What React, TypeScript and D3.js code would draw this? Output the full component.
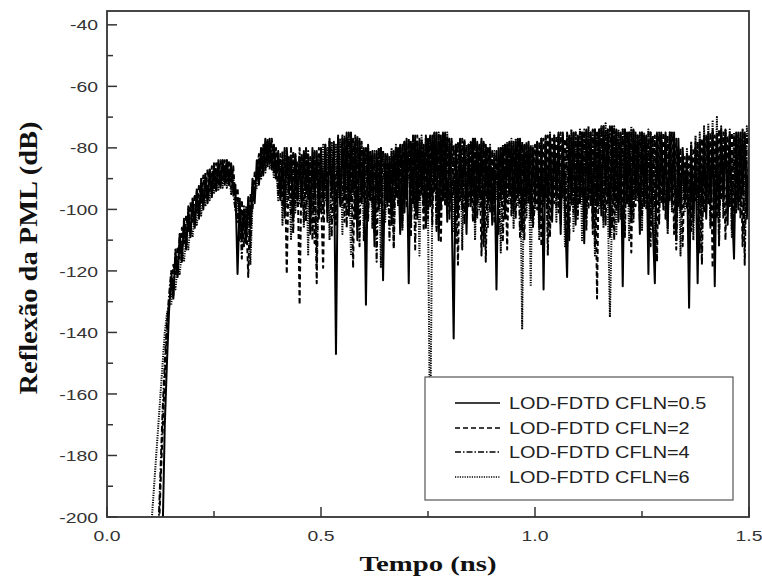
import React from 'react';
import * as d3 from 'd3';

// time grid: first sample and step (ns)
const tStart = 0.1;
const tStep = 0.005;

// LOD-FDTD CFLN=0.5 (solid)
const cfl05 = [
  -215, -215, -215, -215, -215, -215, -205, -170, -150, -133,
  -122, -129, -114, -122, -108, -117, -104, -113, -100, -109,
  -97, -106, -94, -103, -91, -100, -89, -98, -87, -96,
  -86, -94, -85, -93, -84, -92, -84, -92, -85, -94,
  -92, -121, -98, -110, -100, -111, -96, -106, -90, -98,
  -84, -92, -80, -89, -77, -86, -77, -87, -79, -90,
  -81, -96, -84, -101, -80, -93, -83, -104, -82, -97,
  -83, -99, -81, -94, -84, -108, -80, -96, -82, -103,
  -81, -97, -79, -104, -78, -95, -80, -147, -77, -99,
  -77, -96, -76, -102, -75, -94, -78, -110, -77, -98,
  -80, -131, -79, -97, -81, -112, -82, -100, -80, -123,
  -82, -99, -83, -105, -81, -96, -80, -108, -79, -101,
  -77, -124, -78, -98, -76, -103, -77, -95, -79, -106,
  -77, -99, -76, -94, -75, -110, -76, -97, -75, -104,
  -77, -97, -142, -79, -102, -77, -95, -78, -108, -79,
  -99, -77, -104, -78, -96, -77, -112, -79, -98, -80,
  -105, -82, -126, -81, -97, -80, -103, -79, -95, -78,
  -101, -78, -96, -77, -107, -79, -98, -78, -103, -80,
  -97, -79, -106, -77, -126, -78, -99, -76, -104, -77,
  -95, -76, -108, -75, -100, -122, -76, -97, -75, -103,
  -76, -98, -75, -111, -74, -96, -75, -105, -74, -99,
  -74, -102, -73, -95, -74, -109, -73, -97, -74, -104,
  -75, -125, -74, -98, -75, -103, -74, -96, -76, -108,
  -75, -99, -76, -121, -75, -104, -124, -76, -97, -75,
  -100, -75, -106, -76, -96, -75, -110, -77, -101, -80,
  -98, -83, -132, -82, -104, -80, -124, -78, -99, -77,
  -103, -76, -97, -75, -125, -76, -101, -74, -96, -75,
  -105, -76, -98, -116, -75, -100, -76, -95, -75, -103,
  -80,
];

// LOD-FDTD CFLN=2 (dashed)
const cfl2 = [
  -215, -215, -215, -215, -210, -190, -172, -155, -140, -130,
  -127, -118, -121, -112, -116, -106, -111, -102, -107, -98,
  -104, -95, -101, -92, -98, -89, -96, -87, -94, -86,
  -93, -85, -92, -84, -91, -84, -91, -84, -93, -86,
  -97, -93, -104, -97, -112, -100, -122, -95, -100, -88,
  -91, -83, -89, -79, -87, -77, -85, -77, -88, -80,
  -95, -82, -99, -80, -121, -83, -102, -81, -98, -84,
  -131, -82, -104, -80, -97, -83, -110, -81, -124, -80,
  -96, -119, -80, -101, -78, -94, -79, -105, -77, -98,
  -76, -104, -75, -96, -77, -119, -76, -100, -78, -95,
  -81, -103, -80, -97, -82, -108, -81, -99, -80, -105,
  -100, -82, -96, -83, -113, -80, -98, -79, -106, -78,
  -95, -78, -109, -77, -100, -76, -97, -78, -107, -77,
  -98, -76, -105, -75, -96, -76, -111, -75, -99, -76,
  -103, -77, -95, -79, -118, -78, -100, -77, -97, -79,
  -78, -104, -77, -98, -79, -115, -78, -96, -80, -101,
  -82, -97, -81, -108, -80, -95, -79, -113, -78, -99,
  -78, -103, -77, -95, -79, -110, -78, -98, -79, -104,
  -79, -100, -78, -112, -77, -96, -76, -109, -77, -98,
  -76, -101, -75, -96, -77, -113, -76, -99, -75, -105,
  -76, -97, -75, -104, -74, -100, -75, -108, -74, -129,
  -74, -99, -73, -105, -74, -96, -73, -110, -74, -98,
  -75, -102, -74, -97, -75, -114, -74, -99, -76, -104,
  -75, -96, -76, -106, -75, -100, -76, -117, -75, -98,
  -75, -103, -76, -97, -75, -108, -77, -99, -80, -112,
  -83, -100, -82, -107, -80, -97, -78, -114, -77, -101,
  -76, -98, -75, -119, -76, -103, -74, -97, -75, -110,
  -76, -99, -75, -104, -76, -97, -75, -112, -75, -100,
  -81,
];

// LOD-FDTD CFLN=4 (dash-dot)
const cfl4 = [
  -215, -215, -215, -215, -205, -185, -165, -150, -137, -128,
  -120, -128, -113, -121, -108, -116, -103, -112, -99, -108,
  -96, -105, -93, -102, -90, -99, -88, -97, -87, -95,
  -85, -93, -84, -92, -84, -91, -84, -92, -86, -95,
  -100, -104, -96, -116, -99, -108, -97, -112, -93, -95,
  -88, -82, -87, -80, -85, -78, -85, -79, -88, -82,
  -84, -97, -81, -103, -83, -95, -80, -108, -82, -99,
  -80, -96, -83, -104, -81, -98, -84, -111, -81, -97,
  -80, -103, -79, -96, -77, -109, -78, -100, -76, -97,
  -99, -76, -106, -75, -97, -77, -103, -76, -112, -78,
  -96, -80, -104, -81, -99, -82, -117, -80, -98, -81,
  -97, -82, -110, -81, -100, -80, -96, -79, -104, -78,
  -99, -77, -105, -76, -113, -78, -97, -77, -101, -76,
  -103, -76, -98, -75, -107, -76, -100, -75, -96, -77,
  -78, -101, -79, -111, -78, -97, -77, -105, -79, -99,
  -78, -96, -77, -103, -79, -99, -78, -117, -80, -97,
  -81, -104, -82, -98, -80, -110, -79, -96, -78, -102,
  -79, -97, -77, -109, -78, -100, -79, -96, -80, -106,
  -98, -78, -103, -77, -97, -76, -115, -77, -100, -76,
  -99, -75, -105, -76, -97, -75, -110, -76, -101, -75,
  -103, -75, -96, -74, -107, -75, -99, -74, -112, -75,
  -97, -73, -104, -74, -98, -73, -106, -74, -100, -75,
  -97, -74, -109, -75, -99, -74, -104, -76, -96, -75,
  -102, -76, -98, -75, -112, -76, -99, -75, -105, -76,
  -98, -76, -104, -75, -99, -77, -113, -81, -100, -83,
  -97, -82, -108, -79, -101, -78, -96, -77, -118, -76,
  -100, -75, -106, -74, -98, -75, -112, -76, -99, -74,
  -97, -75, -107, -76, -99, -75, -103, -74, -118, -76,
  -79,
];

// LOD-FDTD CFLN=6 (dotted)
const cfl6 = [
  -215, -200, -190, -180, -170, -160, -150, -140, -134, -131,
  -131, -123, -126, -118, -121, -113, -117, -109, -113, -105,
  -109, -101, -105, -97, -102, -94, -99, -92, -97, -90,
  -95, -88, -94, -87, -93, -86, -93, -87, -95, -89,
  -100, -96, -110, -101, -106, -99, -103, -118, -98, -94,
  -93, -85, -90, -82, -88, -80, -87, -81, -90, -84,
  -97, -83, -105, -81, -99, -84, -110, -82, -101, -85,
  -98, -82, -106, -80, -115, -83, -100, -81, -118, -82,
  -101, -79, -97, -80, -110, -78, -103, -79, -96, -77,
  -108, -77, -99, -76, -115, -78, -102, -77, -97, -79,
  -110, -80, -101, -82, -106, -81, -98, -80, -119, -81,
  -104, -83, -97, -80, -112, -79, -99, -80, -107, -78,
  -96, -78, -104, -77, -100, -78, -115, -76, -99, -77,
  -101, -178, -98, -76, -106, -75, -100, -76, -97, -75,
  -99, -78, -107, -79, -97, -77, -113, -78, -102, -79,
  -96, -77, -110, -79, -100, -78, -98, -80, -106, -79,
  -103, -81, -97, -80, -114, -79, -101, -78, -98, -77,
  -106, -77, -99, -78, -139, -79, -103, -80, -125, -79,
  -100, -78, -110, -77, -99, -76, -106, -75, -97, -76,
  -104, -75, -100, -76, -112, -75, -98, -74, -107, -75,
  -99, -74, -110, -75, -103, -73, -97, -74, -115, -75,
  -100, -73, -106, -72, -98, -135, -100, -73, -108, -74,
  -103, -74, -98, -75, -110, -73, -101, -75, -97, -76,
  -107, -75, -100, -74, -104, -76, -113, -75, -99, -76,
  -97, -76, -108, -75, -101, -78, -104, -80, -115, -82,
  -101, -80, -99, -78, -110, -76, -100, -75, -106, -73,
  -98, -72, -105, -71, -100, -70, -110, -73, -103, -74,
  -98, -74, -109, -75, -101, -76, -97, -74, -107, -73,
  -78,
];

const seriesLabels = ['LOD-FDTD CFLN=0.5', 'LOD-FDTD CFLN=2', 'LOD-FDTD CFLN=4', 'LOD-FDTD CFLN=6'];
const seriesDash = ['', '5,3', '6,2,1.5,2', '1.2,1.2'];

const xTicks = [0, 0.5, 1.0, 1.5];
const xTickLabels = ['0.0', '0.5', '1.0', '1.5'];
const xMinorTicks = [0.25, 0.75, 1.25];
const yTicks = [-200, -180, -160, -140, -120, -100, -80, -60, -40];
const yMinorTicks = [-190, -170, -150, -130, -110, -90, -70, -50];

export default function App() {
  const left = 107, right = 749, top = 11, bottom = 517;
  const x = d3.scaleLinear().domain([0, 1.5]).range([left, right]);
  const y = d3.scaleLinear().domain([-200, -35.5]).range([bottom, top]);
  const line = d3
    .line<number>()
    .x((_, i) => x(tStart + i * tStep))
    .y((d) => y(d));

  const data = [cfl05, cfl2, cfl4, cfl6];
  const drawOrder = [3, 2, 1, 0];
  const axisColor = '#333';
  const textColor = '#333';
  const legendRows = [403, 428, 452, 477];

  return (
    <svg width={762} height={579} style={{ position: 'absolute', left: 0, top: 0, background: '#fff' }}>
      <defs>
        <clipPath id="plotClip">
          <rect x={left} y={top} width={right - left} height={bottom - top} />
        </clipPath>
      </defs>
      <rect x={0} y={0} width={762} height={579} fill="#fff" />
      <g clipPath="url(#plotClip)">
        {drawOrder.map((k) => (
          <path
            key={k}
            d={line(data[k]) || ''}
            fill="none"
            stroke="#000"
            strokeWidth={2}
            strokeLinejoin="round"
            strokeDasharray={seriesDash[k] || undefined}
          />
        ))}
      </g>
      {/* frame */}
      <rect x={left} y={top} width={right - left} height={bottom - top} fill="none" stroke={axisColor} strokeWidth={1.8} />
      {/* y ticks */}
      {yTicks.map((t) => (
        <g key={'y' + t}>
          <line x1={left} x2={left + 10} y1={y(t)} y2={y(t)} stroke={axisColor} strokeWidth={1.5} />
          <text
            transform={`translate(${left - 9},${y(t)}) scale(1.25,1)`}
            textAnchor="end"
            dy="0.36em"
            fontFamily="Liberation Sans, Arial, sans-serif"
            fontSize={15.5}
            fill={textColor}
          >
            {t}
          </text>
        </g>
      ))}
      {yMinorTicks.map((t) => (
        <line key={'ym' + t} x1={left} x2={left + 6} y1={y(t)} y2={y(t)} stroke={axisColor} strokeWidth={1.5} />
      ))}
      {/* x ticks */}
      {xTicks.map((t, i) => (
        <g key={'x' + t}>
          <line x1={x(t)} x2={x(t)} y1={bottom} y2={bottom - 10} stroke={axisColor} strokeWidth={1.5} />
          <text
            transform={`translate(${x(t)},${bottom + 24}) scale(1.25,1)`}
            textAnchor="middle"
            fontFamily="Liberation Sans, Arial, sans-serif"
            fontSize={15.5}
            fill={textColor}
          >
            {xTickLabels[i]}
          </text>
        </g>
      ))}
      {xMinorTicks.map((t) => (
        <line key={'xm' + t} x1={x(t)} x2={x(t)} y1={bottom} y2={bottom - 6} stroke={axisColor} strokeWidth={1.5} />
      ))}
      {/* legend */}
      <rect x={425} y={377} width={308} height={123} fill="#fff" stroke="#555" strokeWidth={1.2} />
      {seriesLabels.map((lab, i) => (
        <g key={lab}>
          <line
            x1={455}
            x2={500}
            y1={legendRows[i]}
            y2={legendRows[i]}
            stroke="#000"
            strokeWidth={1.3}
            strokeDasharray={seriesDash[i] || undefined}
          />
          <text
            transform={`translate(509,${legendRows[i]}) scale(1.17,1)`}
            dy="0.36em"
            fontFamily="Liberation Sans, Arial, sans-serif"
            fontSize={17}
            fill="#222"
          >
            {lab}
          </text>
        </g>
      ))}
      {/* axis titles */}
      <text
        transform="translate(37,258) rotate(-90)"
        textAnchor="middle"
        fontFamily="Liberation Serif, Times New Roman, serif"
        fontWeight="bold"
        fontSize={26}
        textLength={273}
        lengthAdjust="spacingAndGlyphs"
        fill="#111"
      >
        Reflexão da PML (dB)
      </text>
      <text
        x={428}
        y={571}
        textAnchor="middle"
        fontFamily="Liberation Serif, Times New Roman, serif"
        fontWeight="bold"
        fontSize={22}
        textLength={137}
        lengthAdjust="spacingAndGlyphs"
        fill="#111"
      >
        Tempo (ns)
      </text>
    </svg>
  );
}
